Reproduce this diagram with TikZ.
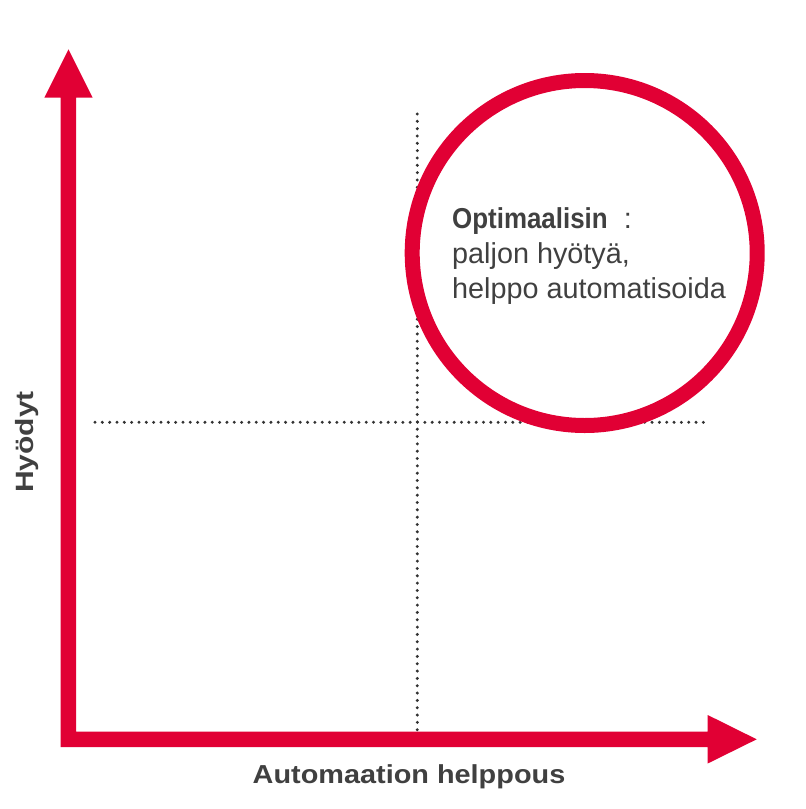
\documentclass[tikz,border=0pt]{standalone}
\usepackage{fontspec}
\usepackage{graphicx}
\setmainfont{Liberation Sans}
\definecolor{axisred}{RGB}{225,0,52}
\definecolor{txtgray}{RGB}{64,64,64}
\definecolor{dotgray}{RGB}{50,50,50}
\begin{document}
\begin{tikzpicture}[x=1pt,y=-1pt,
  dotline/.style={draw=dotgray,line width=3.3pt,dash pattern=on 0pt off 7.33pt,line cap=round},
  ring/.style={draw=axisred,line width=15pt},
  boxtext/.style={text=txtgray,font=\fontsize{28.8}{35}\selectfont,inner sep=0pt,anchor=base west},
  axlabel/.style={text=txtgray,font=\fontsize{26}{30}\selectfont\bfseries,inner sep=0pt,anchor=base}]
\useasboundingbox (0,0) rectangle (806,809);
% dotted quadrant lines
\coordinate (vtop) at (417.3,114);
\coordinate (vbot) at (417.3,731);
\coordinate (hl) at (95,422.3);
\coordinate (hr) at (710,422.3);
\draw[dotline] (vtop) -- (vbot);
\draw[dotline] (hl) -- (hr);
% circle
\coordinate (cc) at (584.7,253);
\draw[ring] (cc) circle[radius=172.5];
% axes
\fill[axisred] (60.5,747) -- (60.5,97.7) -- (44.3,97.7) -- (68.5,49.3) -- (92.7,97.7) -- (76,97.7)
  -- (76,731.5) -- (707.7,731.5) -- (707.7,715) -- (756.7,739.3) -- (707.7,763.5) -- (707.7,747) -- cycle;
% texts
\node[boxtext] (t1) at (452,228) {\scalebox{0.9}[1]{\bfseries Optimaalisin}\hspace{16pt}:};
\node[boxtext] (t2) at (452,263) {paljon hyötyä,};
\node[boxtext] (t3) at (452,298) {helppo automatisoida};
\node[axlabel] (xl) at (409,783) {\scalebox{1.11}[1]{Automaation helppous}};
\node[axlabel,rotate=90] (yl) at (34,442) {\fontsize{25}{30}\selectfont\bfseries\scalebox{1.2}[1]{Hyödyt}};
\end{tikzpicture}
\end{document}
